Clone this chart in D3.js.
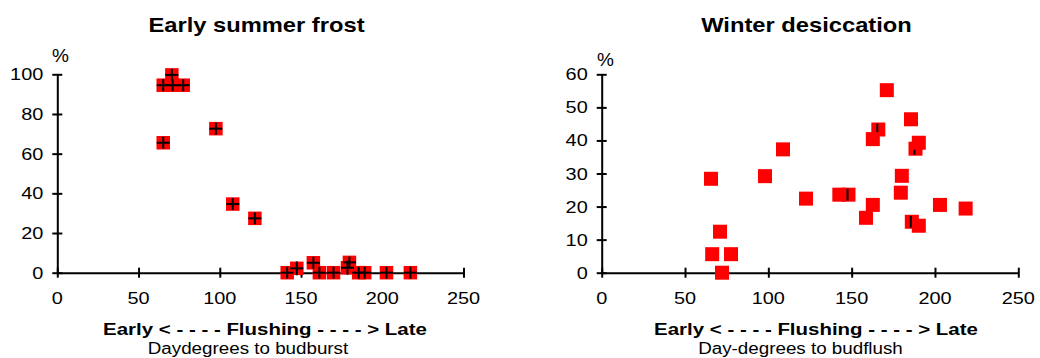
<!DOCTYPE html>
<html>
<head>
<meta charset="utf-8">
<script src="https://cdn.jsdelivr.net/npm/d3@7/dist/d3.min.js"></script>
<style>
  html, body { margin: 0; padding: 0; background: #fff; }
  svg { display: block; }
  text { font-family: "Liberation Sans", Arial, Helvetica, sans-serif; fill: #000; }
</style>
</head>
<body>
<svg id="chart" width="1040" height="358"></svg>
<script>
// ---------- data ----------
const frostX    = [65.2, 65.2, 71.0, 77.5, 70.5, 97.6, 108.0, 121.6, 141.5, 147.4, 157.6, 161.3, 170.0, 178.6, 179.8, 185.5, 189.2, 202.6, 217.3];
const frostY    = [65.5, 94.5, 94.5, 94.5, 99.7, 72.6, 34.6, 27.4, 0, 2.2, 5.0, 0, 0, 2.5, 5.2, 0, 0, 0, 0];
const frostXErr = [4, 4, 4, 4, 4, 4, 4, 4, 4, 4, 4, 4, 4, 4, 4, 4, 4, 4, 4];
const frostYErr = [3, 3, 3, 3, 3, 3, 3, 3, 3, 3.5, 3, 3, 3, 3.5, 3, 3, 3, 3, 3];

const desicX    = [65.6, 71.0, 66.3, 77.6, 72.2, 98.0, 108.8, 122.6, 142.6, 148.1, 171.1, 185.6, 166.0, 162.7, 188.3, 190.3, 180.1, 179.5, 162.7, 158.6, 186.1, 190.3, 203.0, 218.4];
const desicY    = [28.4, 12.4, 5.6, 5.6, 0, 29.2, 37.3, 22.4, 23.6, 23.6, 55.2, 46.4, 43.3, 40.4, 37.5, 39.3, 29.3, 24.2, 20.5, 16.6, 15.4, 14.2, 20.5, 19.4];
const desicYErr = [0, 0, 0, 0, 0, 0, 0, 0, 0, 1.8, 0, 0, 1.8, 0, 1.8, 0, 0, 0, 0, 0, 1.8, 0, 0, 0];

const xTicks      = [0, 50, 100, 150, 200, 250];
const frostYTicks = [0, 20, 40, 60, 80, 100];
const desicYTicks = [0, 10, 20, 30, 40, 50, 60];

const titles  = ["Early summer frost", "Winter desiccation"];
const flushLabel = "Early < - - - - Flushing - - - - > Late";
const subLabels = ["Daydegrees to budburst", "Day-degrees to budflush"];
const unitLabel = "%";

// ---------- drawing ----------
const svg = d3.select("#chart");

function addText(g, x, y, str, size, weight, anchor, sx) {
  return g.append("text")
    .attr("transform", `translate(${x},${y}) scale(${sx},1)`)
    .attr("text-anchor", anchor)
    .style("font-size", size + "px")
    .style("font-weight", weight)
    .text(str);
}

function panel(cfg) {
  const g = svg.append("g");
  const x = d3.scaleLinear().domain([0, 250]).range([cfg.x0, cfg.x1]);
  const y = d3.scaleLinear().domain([0, cfg.yMax]).range([272.7, 74.3]);

  // y axis
  const ya = g.append("g").attr("transform", `translate(${cfg.x0},0)`)
    .call(d3.axisLeft(y).tickValues(cfg.yTicks).tickSize(5).tickSizeOuter(0).tickFormat(""));
  ya.select(".domain").attr("stroke", "#000").attr("stroke-width", 2);
  ya.selectAll(".tick line").attr("x1", 5).attr("x2", -5).attr("stroke", "#000").attr("stroke-width", 2);
  cfg.yTicks.forEach(v => addText(g, cfg.x0 - 14, y(v) + 6, String(v), 17, "normal", "end", 1.17));

  // x axis
  const xa = g.append("g").attr("transform", `translate(0,${y(0)})`)
    .call(d3.axisBottom(x).tickValues(xTicks).tickSize(5).tickSizeOuter(0).tickFormat(""));
  xa.select(".domain").attr("stroke", "#000").attr("stroke-width", 2);
  xa.selectAll(".tick line").attr("y1", -5).attr("y2", 5).attr("stroke", "#000").attr("stroke-width", 2);
  xTicks.forEach(v => addText(g, x(v), y(0) + 31, String(v), 17, "normal", "middle", 1.17));

  // texts
  addText(g, cfg.titleX, 31.5, cfg.title, 21, "bold", "middle", 1.13);
  addText(g, cfg.pctX, cfg.pctY, unitLabel, 19, "normal", "start", 1.0);
  addText(g, cfg.flushX, 335, flushLabel, 16.5, "bold", "middle", 1.24);
  addText(g, cfg.subX, 354, cfg.sub, 16.2, "normal", "middle", 1.16);

  return { g, x, y };
}

// Left panel
const L = panel({ x0: 57.3, x1: 463.5, yMax: 100, yTicks: frostYTicks, title: titles[0],
  titleX: 256.5, pctX: 52, pctY: 61.5, flushX: 265, subX: 248, sub: subLabels[0] });
const ms = 13.5;
const frost = frostX.map((v, i) => ({ x: v, y: frostY[i], ex: frostXErr[i], ey: frostYErr[i] }));
L.g.append("g").selectAll("rect").data(frost).join("rect")
  .attr("x", d => L.x(d.x) - ms / 2).attr("y", d => L.y(d.y) - ms / 2)
  .attr("width", ms).attr("height", ms).attr("fill", "#ff0000");
const cross = L.g.append("g").attr("stroke", "#000").attr("stroke-width", 2);
cross.selectAll("line.h").data(frost).join("line").attr("class", "h")
  .attr("x1", d => L.x(d.x - d.ex)).attr("x2", d => L.x(d.x + d.ex))
  .attr("y1", d => L.y(d.y)).attr("y2", d => L.y(d.y));
cross.selectAll("line.v").data(frost).join("line").attr("class", "v")
  .attr("x1", d => L.x(d.x)).attr("x2", d => L.x(d.x))
  .attr("y1", d => L.y(d.y - d.ey)).attr("y2", d => L.y(d.y + d.ey));

// Right panel
const R = panel({ x0: 601.7, x1: 1018.3, yMax: 60, yTicks: desicYTicks, title: titles[1],
  titleX: 806.5, pctX: 597, pctY: 66, flushX: 816, subX: 800.5, sub: subLabels[1] });
const ms2 = 14;
const desic = desicX.map((v, i) => ({ x: v, y: desicY[i], ey: desicYErr[i] }));
const pts = R.g.append("g").selectAll("g").data(desic).join("g");
pts.append("rect")
  .attr("x", d => R.x(d.x) - ms2 / 2).attr("y", d => R.y(d.y) - ms2 / 2)
  .attr("width", ms2).attr("height", ms2).attr("fill", "#ff0000");
pts.filter(d => d.ey > 0).append("line")
  .attr("x1", d => R.x(d.x) - 1).attr("x2", d => R.x(d.x) - 1)
  .attr("y1", d => R.y(d.y - d.ey)).attr("y2", d => R.y(d.y + d.ey))
  .attr("stroke", "#000").attr("stroke-width", 2);
</script>
</body>
</html>
